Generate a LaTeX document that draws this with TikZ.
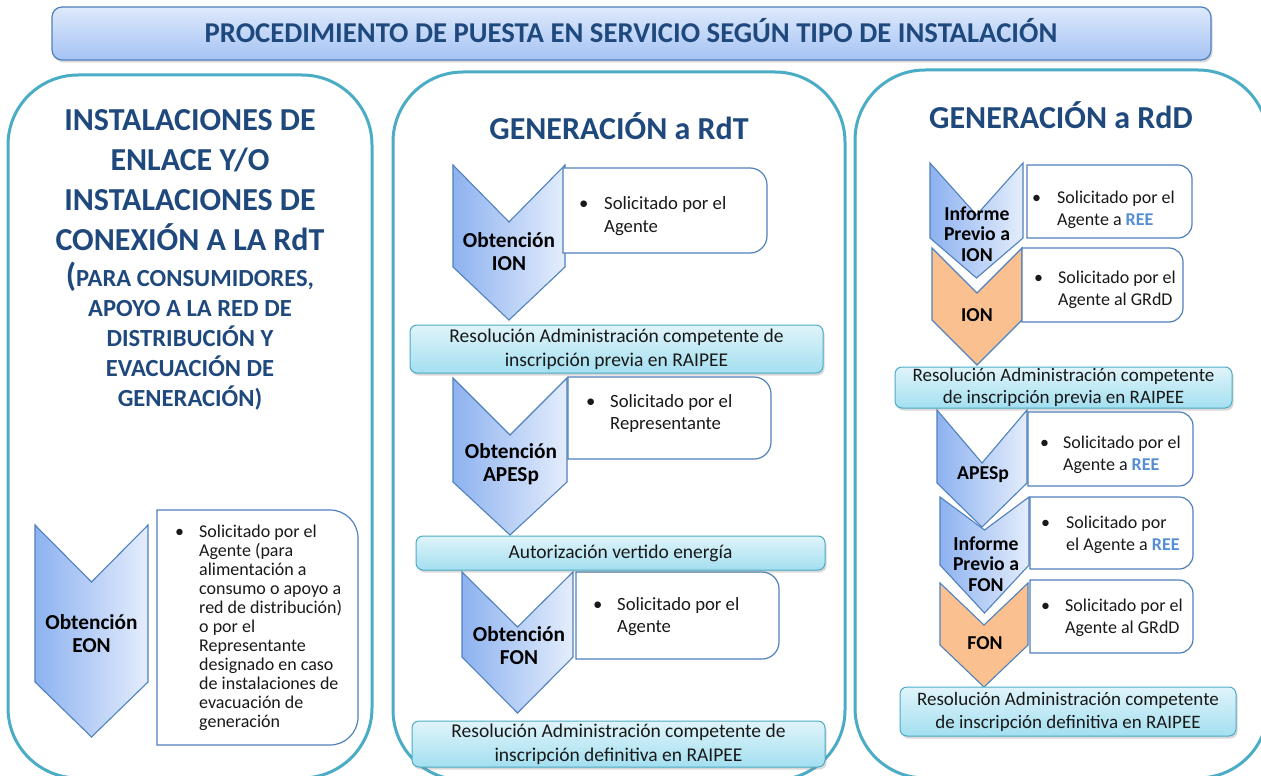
\documentclass[tikz,border=0pt]{standalone}
\usepackage{fontspec}
\setmainfont{Carlito}
\usetikzlibrary{shadows}
\definecolor{panelc}{RGB}{75,172,198}
\definecolor{headc}{RGB}{31,73,125}
\definecolor{bluebd}{RGB}{79,129,189}
\definecolor{chevL}{RGB}{141,178,240}
\definecolor{chevR}{RGB}{228,237,252}
\definecolor{orangec}{RGB}{250,192,144}
\definecolor{barT}{RGB}{224,244,250}
\definecolor{barB}{RGB}{163,223,240}
\definecolor{ttlT}{RGB}{222,233,251}
\definecolor{ttlB}{RGB}{165,195,244}
\definecolor{txtc}{RGB}{25,25,25}
\definecolor{reec}{RGB}{85,142,213}
\newcommand\chev[7]{%
  \draw[#1] (#2,#4) -- ({(#2+#3)/2},#5) -- (#3,#4) -- (#3,#6) -- ({(#2+#3)/2},#7) -- (#2,#6) -- cycle;}
\newcommand\rbox[5]{%
  \draw[txtbox] (#1,#2) -- ({#3-#5},#2) .. controls ({#3-0.448*#5},#2) and (#3,{#2+0.448*#5}) .. (#3,{#2+#5}) -- (#3,{#4-#5}) .. controls (#3,{#4-0.448*#5}) and ({#3-0.448*#5},#4) .. ({#3-#5},#4) -- (#1,#4) -- cycle;}
\newcommand\ree{\textcolor{reec}{\bfseries REE}}
\tikzset{
  panel/.style={draw=panelc, line width=3pt, rounded corners=70pt},
  chevblue/.style={draw=bluebd, line width=1.1pt, left color=chevL, right color=chevR, line join=miter},
  chevorange/.style={draw=bluebd, line width=1.1pt, fill=orangec, line join=miter},
  txtbox/.style={draw=bluebd, line width=1.2pt, fill=white},
  bar/.style={draw=panelc, line width=1pt, rounded corners=7pt, top color=barT, bottom color=barB,
    drop shadow={shadow xshift=1.5pt, shadow yshift=-2.5pt, opacity=0.3},
    inner sep=0pt, align=center, text=txtc},
  ttlbar/.style={draw=bluebd, line width=1.2pt, rounded corners=10pt, top color=ttlT, bottom color=ttlB,
    drop shadow={shadow xshift=1.5pt, shadow yshift=-2.5pt, opacity=0.3}, inner sep=0pt},
  chevlbl/.style={font=\bfseries\fontsize{21.3}{23}\selectfont, align=center, text=black, inner sep=0pt},
  rchevlbl/.style={font=\bfseries\fontsize{19.7}{20.5}\selectfont, align=center, text=black, inner sep=0pt},
  blt/.style={anchor=west, inner sep=0pt, text=txtc},
  head/.style={anchor=base, text=headc, font=\bfseries\fontsize{32}{40}\selectfont, inner sep=0pt},
  subhead/.style={anchor=base, text=headc, font=\bfseries\fontsize{24.6}{30}\selectfont, inner sep=0pt},
}
\begin{document}
\begin{tikzpicture}[x=1pt,y=-1pt]
\useasboundingbox (0,0) rectangle (1261,776);
\fill[white] (0,0) rectangle (1261,776);
\clip (0,0) rectangle (1261,776);

% panels
\draw[panel] (8,75) rectangle (372,778);
\draw[panel] (393,72) rectangle (845,780);
\draw[panel] (855,70) rectangle (1268,778);

% title
\node[ttlbar, minimum width=1159pt, minimum height=53pt] (ttl) at (631.5,33.5) {};
\node[anchor=base, inner sep=0pt, text=headc, font=\bfseries\fontsize{28.7}{30}\selectfont] (ttltext) at (631,43) {PROCEDIMIENTO DE PUESTA EN SERVICIO SEGÚN TIPO DE INSTALACIÓN};

% left headings
\node[head] (h1) at (190,130) {INSTALACIONES DE};
\node[head] (h2) at (190,170) {ENLACE Y/O};
\node[head] (h3) at (190,210) {INSTALACIONES DE};
\node[head] (h4) at (190,250) {CONEXIÓN A LA RdT};
\node[subhead] (s1) at (190,286) {{\fontsize{33}{33}\selectfont(}PARA CONSUMIDORES,};
\node[subhead] (s2) at (190,316) {APOYO A LA RED DE};
\node[subhead] (s3) at (190,346) {DISTRIBUCIÓN Y};
\node[subhead] (s4) at (190,376) {EVACUACIÓN DE};
\node[subhead] (s5) at (190,406) {GENERACIÓN)};
\node[head] (hm) at (619,139) {GENERACIÓN a RdT};
\node[head] (hr) at (1061,128.5) {GENERACIÓN a RdD};

% left column
\chev{chevblue}{35}{148}{525}{582}{682}{737}
\rbox{157}{510}{358}{745}{28}
\node[chevlbl] (lEON) at (91.5,634) {Obtención\\EON};
\node[blt, font=\fontsize{18}{19}\selectfont] (tEON) at (175,628.5) {\begin{tabular}{@{}l@{}l@{}}\makebox[24pt][l]{\textbullet}&Solicitado por el\\
&Agente (para\\ &alimentación a\\ &consumo o apoyo a\\ &red de distribución)\\ &o por el\\ &Representante\\ &designado en caso\\ &de instalaciones de\\ &evacuación de\\ &generación\end{tabular}};

% middle column
\chev{chevblue}{462}{573}{572}{627}{657}{713}
\chev{chevblue}{453}{567}{378}{435}{482}{535}
\chev{chevblue}{453}{565}{165}{222}{267}{320}
\rbox{563}{168}{767}{253}{17}
\rbox{568}{377}{771}{459}{17}
\rbox{576}{572}{779}{659}{17}
\node[chevlbl] (lION) at (509,252) {Obtención\\ION};
\node[chevlbl] (lAPESp) at (511,464) {Obtención\\APESp};
\node[chevlbl] (lFONm) at (519,645.5) {Obtención\\FON};
\node[blt, font=\fontsize{18.7}{23}\selectfont] (tION) at (579,216) {\begin{tabular}{@{}l@{}l@{}}\makebox[25pt][l]{\textbullet}&Solicitado por el\\ &Agente\end{tabular}};
\node[blt, font=\fontsize{18.7}{22}\selectfont] (tAPESp) at (586,414) {\begin{tabular}{@{}l@{}l@{}}\makebox[24pt][l]{\textbullet}&Solicitado por el\\ &Representante\end{tabular}};
\node[blt, font=\fontsize{18.7}{22}\selectfont] (tFONm) at (593,617.5) {\begin{tabular}{@{}l@{}l@{}}\makebox[24pt][l]{\textbullet}&Solicitado por el\\ &Agente\end{tabular}};
\node[bar, minimum width=413pt, minimum height=48pt, font=\fontsize{19.5}{24}\selectfont] (res1) at (616.5,349) {Resolución Administración competente de\\inscripción previa en RAIPEE};
\node[bar, minimum width=409pt, minimum height=34pt, font=\fontsize{19.5}{24}\selectfont] (aut) at (620.5,553) {Autorización vertido energía};
\node[bar, minimum width=413pt, minimum height=46pt, font=\fontsize{19.5}{24}\selectfont] (res2) at (618.5,744) {Resolución Administración competente de\\inscripción definitiva en RAIPEE};

% right column (later chevrons first)
\chev{chevorange}{940}{1028}{583}{625}{645}{687}
\chev{chevblue}{940}{1029}{497}{530}{565}{613}
\chev{chevblue}{937}{1027}{410}{463}{483}{527}
\chev{chevorange}{932}{1022}{248}{293}{320}{365}
\chev{chevblue}{930}{1023}{163}{215}{238}{278}
\rbox{1027}{165}{1192}{238}{14}
\rbox{1022}{248}{1183}{322}{14}
\rbox{1028}{412}{1193}{486}{14}
\rbox{1030}{497}{1193}{569}{14}
\rbox{1030}{580}{1193}{653}{14}
\node[rchevlbl] (lIP1) at (977,234) {Informe\\Previo a\\ION};
\node[rchevlbl] (lIONr) at (977,315) {ION};
\node[rchevlbl] (lAPr) at (983,475) {APESp};
\node[rchevlbl] (lIP2) at (986,564) {Informe\\Previo a\\FON};
\node[rchevlbl] (lFONr) at (985,643) {FON};
\node[blt, font=\fontsize{18}{22}\selectfont] (tR1) at (1032,210) {\begin{tabular}{@{}l@{}l@{}}\makebox[25pt][l]{\textbullet}&Solicitado por el\\ &Agente a \ree\end{tabular}};
\node[blt, font=\fontsize{18}{22}\selectfont] (tR2) at (1034,290) {\begin{tabular}{@{}l@{}l@{}}\makebox[24pt][l]{\textbullet}&Solicitado por el\\ &Agente al GRdD\end{tabular}};
\node[blt, font=\fontsize{18}{22}\selectfont] (tR3) at (1040,455) {\begin{tabular}{@{}l@{}l@{}}\makebox[23pt][l]{\textbullet}&Solicitado por el\\ &Agente a \ree\end{tabular}};
\node[blt, font=\fontsize{18}{22}\selectfont] (tR4) at (1041,535) {\begin{tabular}{@{}l@{}l@{}}\makebox[25pt][l]{\textbullet}&Solicitado por\\ &el Agente a \ree\end{tabular}};
\node[blt, font=\fontsize{18}{22}\selectfont] (tR5) at (1041,618.5) {\begin{tabular}{@{}l@{}l@{}}\makebox[24pt][l]{\textbullet}&Solicitado por el\\ &Agente al GRdD\end{tabular}};
\node[bar, minimum width=337pt, minimum height=41pt, font=\fontsize{19}{22.5}\selectfont] (res3) at (1063.5,387.5) {Resolución Administración competente\\de inscripción previa en RAIPEE};
\node[bar, minimum width=336pt, minimum height=49pt, font=\fontsize{19}{23}\selectfont] (res4) at (1068,711.5) {Resolución Administración competente\\de inscripción definitiva en RAIPEE};
\end{tikzpicture}
\end{document}
